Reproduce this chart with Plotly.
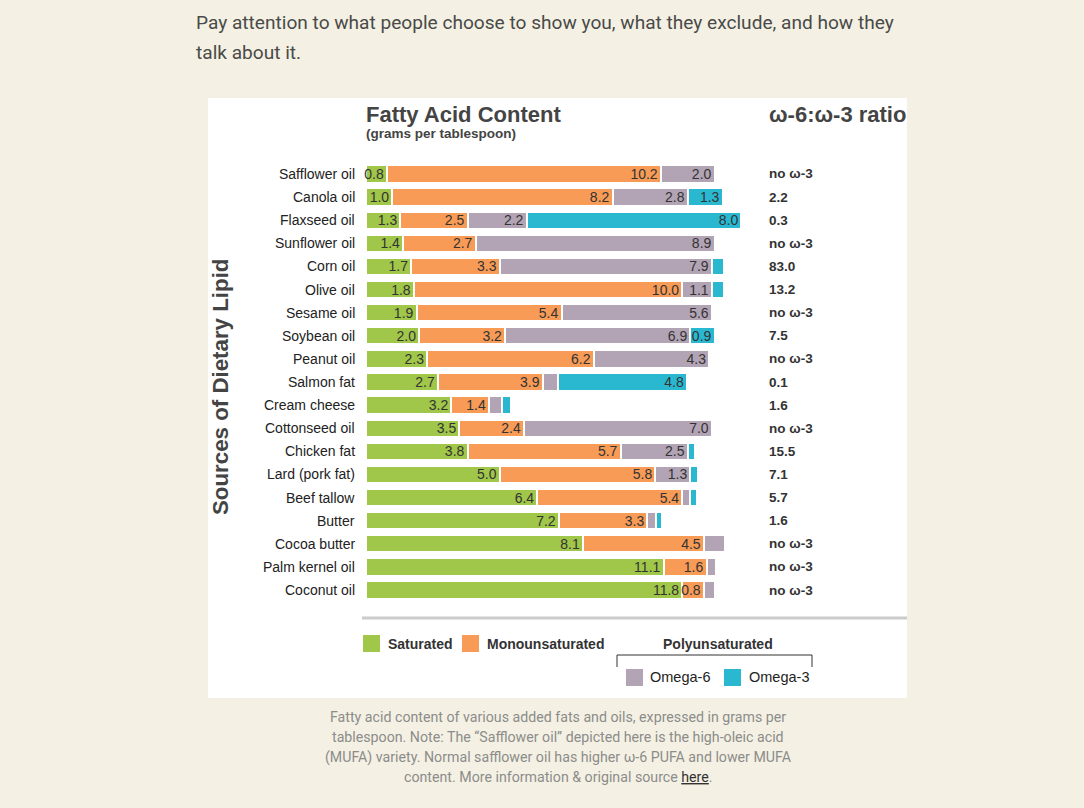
import plotly.graph_objects as go

W, H = 1084, 808

foods = ["Safflower oil", "Canola oil", "Flaxseed oil", "Sunflower oil", "Corn oil",
         "Olive oil", "Sesame oil", "Soybean oil", "Peanut oil", "Salmon fat",
         "Cream cheese", "Cottonseed oil", "Chicken fat", "Lard (pork fat)",
         "Beef tallow", "Butter", "Cocoa butter", "Palm kernel oil", "Coconut oil"]
saturated = [0.8, 1.0, 1.3, 1.4, 1.7, 1.8, 1.9, 2.0, 2.3, 2.7, 3.2, 3.5, 3.8, 5.0, 6.4, 7.2, 8.1, 11.1, 11.8]
monounsat = [10.2, 8.2, 2.5, 2.7, 3.3, 10.0, 5.4, 3.2, 6.2, 3.9, 1.4, 2.4, 5.7, 5.8, 5.4, 3.3, 4.5, 1.6, 0.8]
omega6 = [2.0, 2.8, 2.2, 8.9, 7.9, 1.1, 5.6, 6.9, 4.3, 0.57, 0.48, 7.0, 2.5, 1.3, 0.3, 0.31, 0.78, 0.37, 0.4]
omega3 = [0.0, 1.3, 8.0, 0.0, 0.45, 0.45, 0.0, 0.9, 0.0, 4.8, 0.33, 0.0, 0.27, 0.29, 0.25, 0.25, 0.0, 0.0, 0.0]
ratios = ["no ω-3", "2.2", "0.3", "no ω-3", "83.0", "13.2", "no ω-3", "7.5", "no ω-3", "0.1",
          "1.6", "no ω-3", "15.5", "7.1", "5.7", "1.6", "no ω-3", "no ω-3", "no ω-3"]

series = [("Saturated", saturated, "#a0c64a"),
          ("Monounsaturated", monounsat, "#f79b57"),
          ("Omega-6", omega6, "#b2a4b5"),
          ("Omega-3", omega3, "#2ab8d1")]

CH = "Liberation Sans"
PAGE = "Roboto"
BG = "#f4f1e4"

def px(x):
    return x / W

def py(y):
    return 1 - y / H

fig = go.Figure()
for name, vals, col in series:
    labels = [f"{v:.1f}" if v >= 0.795 else "" for v in vals]
    fig.add_trace(go.Bar(
        y=foods, x=vals, name=name, orientation="h",
        marker=dict(color=col, line=dict(color="white", width=2)),
        text=labels, textposition="inside", insidetextanchor="end",
        textfont=dict(family=CH, size=14, color="#333333"),
        cliponaxis=False, hoverinfo="skip", showlegend=False,
    ))

top_edge, bot_edge = 174 - 11.56, 590 + 11.56
x0, x1 = 365.5, 907
scale = 26.85

shapes = [
    dict(type="rect", xref="paper", yref="paper", x0=px(208), x1=px(907), y0=py(698), y1=py(98),
         fillcolor="white", line=dict(width=0), layer="below"),
    dict(type="line", xref="paper", yref="paper", x0=px(362), x1=px(907), y0=py(618), y1=py(618),
         line=dict(color="#cccccc", width=3)),
]
ann = []
# header text
ann.append(dict(text="Pay attention to what people choose to show you, what they exclude, and how they",
                x=px(194), y=py(22), xanchor="left", yanchor="middle",
                font=dict(family=PAGE, size=19.1, color="#4a4a48")))
ann.append(dict(text="talk about it.", x=px(194), y=py(52), xanchor="left", yanchor="middle",
                font=dict(family=PAGE, size=19.1, color="#4a4a48")))
# titles
ann.append(dict(text="<b>Fatty Acid Content</b>", x=px(364), y=py(114), xanchor="left", yanchor="middle",
                font=dict(family=CH, size=22, color="#444444")))
ann.append(dict(text="<b>(grams per tablespoon)</b>", x=px(364), y=py(133), xanchor="left", yanchor="middle",
                font=dict(family=CH, size=13.5, color="#444444")))
ann.append(dict(text="<b>ω-6:ω-3 ratio</b>", x=px(767), y=py(114), xanchor="left", yanchor="middle",
                font=dict(family=CH, size=22, color="#444444")))
ann.append(dict(text="<b>Sources of Dietary Lipid</b>", x=px(220), y=py(387), xanchor="center",
                yanchor="middle", textangle=-90, font=dict(family=CH, size=22.3, color="#444444")))
# category labels and ratio labels
for f, r in zip(foods, ratios):
    ann.append(dict(text=f, x=px(357), y=f, xref="paper", yref="y", xanchor="right", yanchor="middle",
                    font=dict(family=CH, size=14, color="#222222")))
    ann.append(dict(text=f"<b>{r}</b>", x=px(767), y=f, xref="paper", yref="y", xanchor="left",
                    yanchor="middle", font=dict(family=CH, size=13.5, color="#333333")))
# legend
def sq(xl, yt, col):
    shapes.append(dict(type="rect", xref="paper", yref="paper", x0=px(xl), x1=px(xl + 17),
                       y0=py(yt + 17), y1=py(yt), fillcolor=col, line=dict(width=0)))

sq(363, 635, series[0][2])
sq(462, 635, series[1][2])
sq(626, 669, series[2][2])
sq(724, 669, series[3][2])
ann.append(dict(text="<b>Saturated</b>", x=px(386), y=py(644), xanchor="left", yanchor="middle",
                font=dict(family=CH, size=14, color="#333333")))
ann.append(dict(text="<b>Monounsaturated</b>", x=px(485), y=py(644), xanchor="left", yanchor="middle",
                font=dict(family=CH, size=14, color="#333333")))
ann.append(dict(text="<b>Polyunsaturated</b>", x=px(718), y=py(644), xanchor="center", yanchor="middle",
                font=dict(family=CH, size=14, color="#333333")))
ann.append(dict(text="Omega-6", x=px(648), y=py(677), xanchor="left", yanchor="middle",
                font=dict(family=CH, size=14.5, color="#222222")))
ann.append(dict(text="Omega-3", x=px(747), y=py(677), xanchor="left", yanchor="middle",
                font=dict(family=CH, size=14.5, color="#222222")))
shapes.append(dict(type="path", xref="paper", yref="paper",
                   path=f"M {px(617)} {py(667)} L {px(617)} {py(655)} L {px(812)} {py(655)} L {px(812)} {py(667)}",
                   line=dict(color="#333333", width=1)))
# caption
cap = ["Fatty acid content of various added fats and oils, expressed in grams per",
       "tablespoon. Note: The “Safflower oil” depicted here is the high-oleic acid",
       "(MUFA) variety. Normal safflower oil has higher ω-6 PUFA and lower MUFA",
       "content. More information &amp; original source <u>here</u>."]
for i, (line, yy) in enumerate(zip(cap, [717, 737, 757, 777])):
    if i == 3:
        line = "<span style='color:#8c8c8a'>content. More information &amp; original source </span><span style='color:#333333'><u>here</u></span>."
    ann.append(dict(text=line, x=px(558), y=py(yy), xanchor="center", yanchor="middle",
                    font=dict(family=PAGE, size=14.2, color="#8c8c8a")))

for a in ann:
    a.setdefault("xref", "paper")
    a.setdefault("yref", "paper")
    a["showarrow"] = False

fig.update_layout(
    width=W, height=H, margin=dict(l=0, r=0, t=0, b=0),
    paper_bgcolor=BG, plot_bgcolor="rgba(0,0,0,0)",
    barmode="stack", bargap=0.25,
    uniformtext=dict(minsize=14, mode="show"),
    xaxis=dict(domain=[px(x0), px(x1)], range=[0, (x1 - x0) / scale], visible=False, fixedrange=True),
    yaxis=dict(domain=[py(bot_edge), py(top_edge)], autorange="reversed", visible=False,
               categoryorder="array", categoryarray=foods, fixedrange=True),
    shapes=shapes, annotations=ann, showlegend=False,
)
fig.write_html("out.html", config={"displayModeBar": False},
               post_script=f"document.body.style.margin='0';document.body.style.overflow='hidden';"
                           f"document.body.style.background='{BG}';")
